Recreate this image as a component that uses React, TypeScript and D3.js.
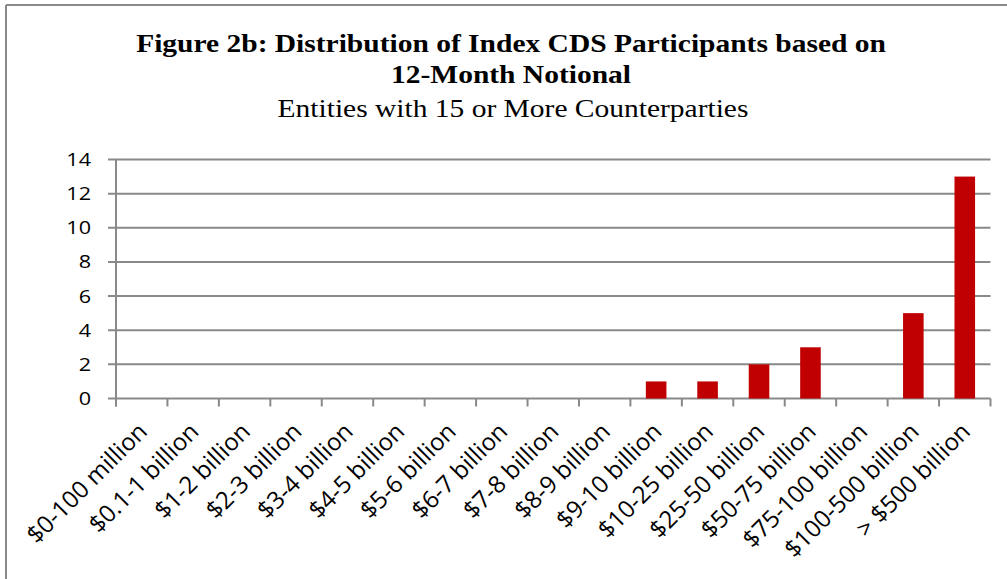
import React from "react";
import * as d3 from "d3";

const categories = [
  "$0-100 million",
  "$0.1-1 billion",
  "$1-2 billion",
  "$2-3 billion",
  "$3-4 billion",
  "$4-5 billion",
  "$5-6 billion",
  "$6-7 billion",
  "$7-8 billion",
  "$8-9 billion",
  "$9-10 billion",
  "$10-25 billion",
  "$25-50 billion",
  "$50-75 billion",
  "$75-100 billion",
  "$100-500 billion",
  "> $500 billion",
];
const values = [0, 0, 0, 0, 0, 0, 0, 0, 0, 0, 1, 1, 2, 3, 0, 5, 13];
const yTicks = [0, 2, 4, 6, 8, 10, 12, 14];

const W = 1007;
const H = 579;
const plot = { left: 116, right: 990.5, top: 159.5, bottom: 398.5 };

export default function App() {
  const x = d3
    .scaleBand<string>()
    .domain(categories)
    .range([plot.left, plot.right])
    .paddingInner(0)
    .paddingOuter(0);
  const y = d3.scaleLinear().domain([0, 14]).range([plot.bottom, plot.top]);
  const barW = x.bandwidth() * 0.4;
  const grid = "#898989";
  const tickFont = "'Open Sans', 'Noto Sans', sans-serif";
  const serif = "'Liberation Serif', 'Times New Roman', serif";
  const sx = 1.18;

  return (
    <svg
      width={W}
      height={H}
      style={{ position: "absolute", left: 0, top: 0, background: "#fff" }}
    >
      <rect x={0} y={0} width={W} height={H} fill="#fff" />
      {/* chart border */}
      <line x1={6} y1={5} x2={W} y2={5} stroke={grid} strokeWidth={2} />
      <line x1={6} y1={5} x2={6} y2={H} stroke={grid} strokeWidth={2} />

      {/* titles */}
      <g transform={`translate(511,0) scale(${sx},1)`}>
        <text x={0} y={52} textAnchor="middle" fontFamily={serif} fontWeight="bold" fontSize={25} fill="#000">
          Figure 2b: Distribution of Index CDS Participants based on
        </text>
        <text x={0} y={83} textAnchor="middle" fontFamily={serif} fontWeight="bold" fontSize={25} fill="#000">
          12-Month Notional
        </text>
      </g>
      <g transform={`translate(513,0) scale(${sx},1)`}>
        <text x={0} y={117} textAnchor="middle" fontFamily={serif} fontSize={25} fill="#000">
          Entities with 15 or More Counterparties
        </text>
      </g>

      {/* gridlines and y ticks */}
      {yTicks.map((t) => (
        <g key={t}>
          <line
            x1={plot.left - 8}
            x2={plot.right}
            y1={y(t)}
            y2={y(t)}
            stroke={grid}
            strokeWidth={2}
          />
          <g transform={`translate(91,${y(t)}) scale(1.2,1)`}>
            <text
              x={0}
              y={0}
              dy="0.36em"
              textAnchor="end"
              fontFamily={tickFont}
              fontSize={18}
              fill="#000"
            >
              {t}
            </text>
          </g>
        </g>
      ))}

      {/* y axis */}
      <line
        x1={plot.left}
        x2={plot.left}
        y1={plot.top}
        y2={plot.bottom + 8}
        stroke={grid}
        strokeWidth={2}
      />

      {/* x ticks */}
      {[...categories.map((c) => x(c) as number), plot.right].map((px, i) => (
        <line
          key={i}
          x1={px}
          x2={px}
          y1={plot.bottom}
          y2={plot.bottom + 8}
          stroke={grid}
          strokeWidth={2}
        />
      ))}

      {/* bars */}
      {categories.map((c, i) =>
        values[i] > 0 ? (
          <rect
            key={c}
            x={(x(c) as number) + x.bandwidth() / 2 - barW / 2}
            y={y(values[i])}
            width={barW}
            height={plot.bottom - y(values[i])}
            fill="#C00000"
          />
        ) : null
      )}

      {/* category labels */}
      {categories.map((c) => {
        const cx = (x(c) as number) + x.bandwidth() / 2 + 7;
        const cy = 433;
        return (
          <text
            key={c}
            transform={`translate(${cx},${cy}) rotate(-45)`}
            textAnchor="end"
            fontFamily={tickFont}
            fontSize={24}
            fill="#000"
          >
            {c}
          </text>
        );
      })}
    </svg>
  );
}
